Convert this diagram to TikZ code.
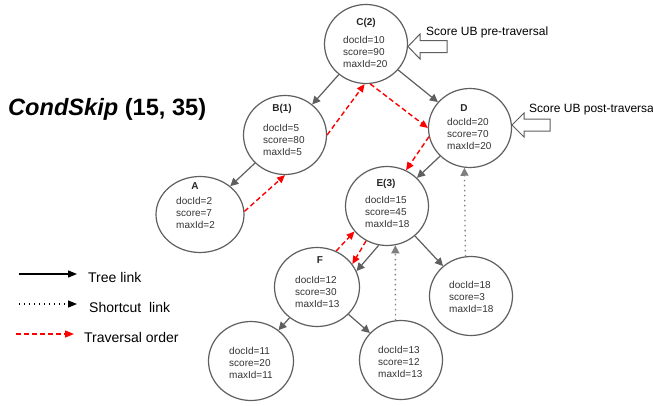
\documentclass[tikz,border=0pt]{standalone}
\usepackage{fontspec}
\setmainfont{Liberation Sans}
\usetikzlibrary{arrows.meta,shapes.geometric}
\definecolor{edgegray}{HTML}{5F5F5F}
\definecolor{travred}{HTML}{FF0000}
\begin{document}
\begin{tikzpicture}[x=1pt,y=-1pt,
  circ/.style={ellipse, draw=edgegray, line width=1.2pt, minimum width=83pt, minimum height=79pt, inner sep=0pt},
  txt/.style={anchor=west, inner sep=0pt, align=left, font=\fontsize{10}{12}\selectfont, text=black!80},
  ttl/.style={inner sep=0pt, font=\fontsize{10}{12}\selectfont\bfseries, text=black!85},
  tree/.style={draw=edgegray, line width=1.2pt, -{Triangle[length=8pt,width=8pt]}},
  shortcut/.style={draw=edgegray!80, line width=1.3pt, dash pattern=on 1.3pt off 3.7pt, -{Triangle[length=8pt,width=8pt]}},
  trav/.style={draw=travred, line width=1.4pt, dash pattern=on 5pt off 3pt, -{Triangle[length=8pt,width=7pt]}},
  legtxt/.style={anchor=west, inner sep=0pt, font=\fontsize{14}{16}\selectfont},
  ubtxt/.style={anchor=base west, inner sep=0pt, font=\fontsize{12}{14}\selectfont},
  blockarrow/.style={draw=edgegray, line width=1pt, fill=white}
]
\useasboundingbox (0,0) rectangle (653,405);
\fill[white] (0,0) rectangle (653,405);

% title
\node[anchor=base west, inner sep=0pt, font=\fontsize{23.6}{26}\selectfont\bfseries] (title) at (8,115) {\textit{CondSkip} (15, 35)};

% nodes
\node[circ] (C) at (366,44) {};
\node[circ] (B) at (285,135) {};
\node[circ] (D) at (470,128) {};
\node[circ, minimum width=88pt, minimum height=76pt] (A) at (200,214.5) {};
\node[circ] (E) at (387,206) {};
\node[circ, minimum width=85pt] (F) at (317,287) {};
\node[circ] (G) at (471,296) {};
\node[circ, minimum width=85pt] (H) at (251,361) {};
\node[circ] (I) at (401,360) {};

% titles
\node[ttl] (Cl) at (366,23) {C(2)};
\node[ttl] (Bl) at (282,109) {B(1)};
\node[ttl] (Dl) at (464,108) {D};
\node[ttl] (Al) at (195,186) {A};
\node[ttl] (El) at (386,184) {E(3)};
\node[ttl] (Fl) at (320,260) {F};

% contents
\node[txt] (Ct) at (343,52) {docId=10\\score=90\\maxId=20};
\node[txt] (Bt) at (263,140) {docId=5\\score=80\\maxId=5};
\node[txt] (Dt) at (447,134) {docId=20\\score=70\\maxId=20};
\node[txt] (At) at (176,213) {docId=2\\score=7\\maxId=2};
\node[txt] (Et) at (365,212) {docId=15\\score=45\\maxId=18};
\node[txt] (Ft) at (295,292) {docId=12\\score=30\\maxId=13};
\node[txt] (Gt) at (449,297) {docId=18\\score=3\\maxId=18};
\node[txt] (Ht) at (229,363) {docId=11\\score=20\\maxId=11};
\node[txt] (It) at (378,362) {docId=13\\score=12\\maxId=13};

% tree links
\draw[tree] (C) -- (B);
\draw[tree] (C) -- (D);
\draw[tree] (B) -- (A);
\draw[tree] (D) -- (E);
\draw[tree] (E.258) -- (F.22);
\draw[tree] (E) -- (G);
\draw[tree] (F) -- (H);
\draw[tree] (F) -- (I);

% shortcut links
\draw[shortcut] (I.98) -- (E.-78);
\draw[shortcut] (G.98) -- (D.262);

% traversal order
\draw[trav] (A.4) -- (B.270);
\draw[trav] (B.0) -- (C.268);
\draw[trav] (C.276) -- (D.180);
\draw[trav] (D.192) -- (E.62);
\draw[trav] (E.239) -- (F.33);
\draw[trav] (F.62) -- (E.218);

% score UB block arrows
\draw[blockarrow] (408,46.5) -- (420,34) -- (420,40.5) -- (447,40.5) -- (447,52.5) -- (420,52.5) -- (420,59) -- cycle;
\node[ubtxt] (pre) at (426,35.5) {Score UB pre-traversal};
\draw[blockarrow] (512,125) -- (524,113) -- (524,119) -- (550,119) -- (550,131) -- (524,131) -- (524,137) -- cycle;
\node[ubtxt] (post) at (529,112.5) {Score UB post-traversa};

% legend
\coordinate (l1a) at (19,274); \coordinate (l1b) at (77,274);
\coordinate (l2a) at (19,304); \coordinate (l2b) at (77,304);
\coordinate (l3a) at (16,334); \coordinate (l3b) at (74,334);
\draw[black, line width=1.3pt, -{Triangle[length=9pt,width=7pt]}] (l1a) -- (l1b);
\draw[black, line width=1.3pt, dash pattern=on 1.3pt off 3.7pt, -{Triangle[length=9pt,width=7pt]}] (l2a) -- (l2b);
\draw[travred, line width=1.4pt, dash pattern=on 5pt off 3pt, -{Triangle[length=9pt,width=7pt]}] (l3a) -- (l3b);
\node[legtxt] (lt1) at (88,277) {Tree link};
\node[legtxt] (lt2) at (89,307) {Shortcut\ \ link};
\node[legtxt] (lt3) at (84,337) {Traversal order};
\end{tikzpicture}
\end{document}
